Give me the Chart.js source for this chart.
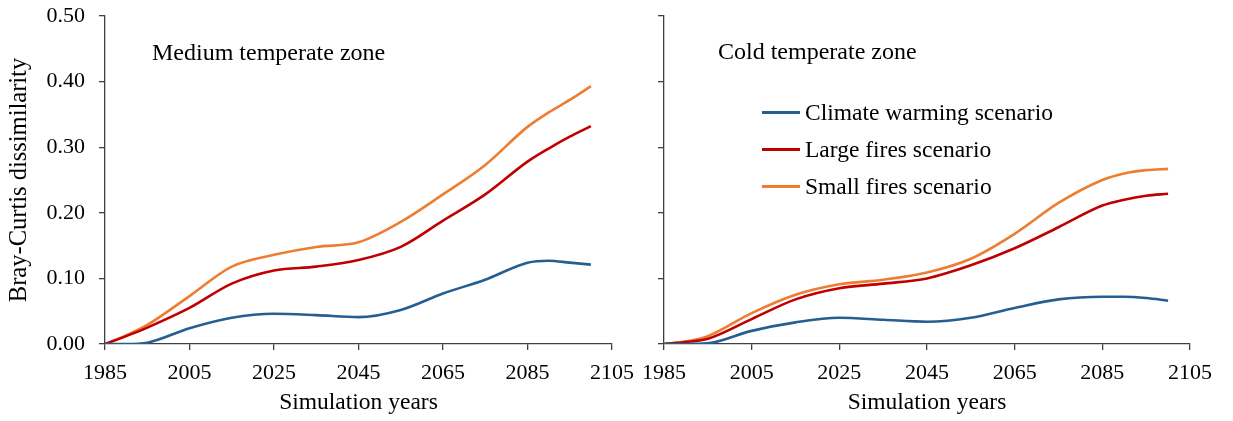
<!DOCTYPE html>
<html>
<head>
<meta charset="utf-8">
<script src="https://cdn.jsdelivr.net/npm/chart.js@4.4.0/dist/chart.umd.min.js"></script>
<style>
    body { margin: 0; background: #fff; width: 1233px; height: 421px; position: relative; overflow: hidden;
           font-family: "Liberation Serif", "Times New Roman", serif; }
    canvas { position: absolute; top: 0; }
    #legend { position: absolute; left: 762px; top: 94px; font-size: 23.5px; color: #000; }
    .row { display: flex; align-items: center; height: 37px; }
    .swatch { width: 38px; height: 3px; margin-right: 5px; }
</style>
</head>
<body>
<canvas id="leftChart" width="640" height="421" style="left:0"></canvas>
<canvas id="rightChart" width="593" height="421" style="left:640px"></canvas>
<div id="legend"></div>
<script>
// Simulation years (x values)
const years = [1985, 1990, 1995, 2005, 2015, 2025, 2035, 2045, 2055, 2065, 2075, 2085, 2090, 2095, 2100];

// Medium temperate zone
const mediumWarming = [0, 0, 0.002, 0.024, 0.040, 0.046, 0.044, 0.041, 0.052, 0.077, 0.098, 0.124, 0.127, 0.124, 0.121];
const mediumLarge   = [0, 0.012, 0.025, 0.055, 0.092, 0.112, 0.118, 0.128, 0.148, 0.188, 0.228, 0.278, 0.298, 0.316, 0.332];
const mediumSmall   = [0, 0.013, 0.029, 0.073, 0.118, 0.136, 0.148, 0.155, 0.186, 0.228, 0.273, 0.331, 0.353, 0.372, 0.393];

// Cold temperate zone
const coldWarming = [0, 0, 0.001, 0.020, 0.033, 0.040, 0.037, 0.034, 0.040, 0.055, 0.068, 0.072, 0.072, 0.070, 0.066];
const coldLarge   = [0, 0.003, 0.008, 0.038, 0.068, 0.085, 0.092, 0.100, 0.120, 0.146, 0.178, 0.211, 0.220, 0.226, 0.229];
const coldSmall   = [0, 0.004, 0.012, 0.047, 0.075, 0.091, 0.098, 0.109, 0.130, 0.168, 0.215, 0.250, 0.260, 0.265, 0.267];

const seriesNames  = ["Climate warming scenario", "Large fires scenario", "Small fires scenario"];
const seriesColors = ["#255e91", "#c00000", "#ed7d31"];

const xTicks = [1985, 2005, 2025, 2045, 2065, 2085, 2105];
const yTicks = [0, 0.1, 0.2, 0.3, 0.4, 0.5];

const FONT = "'Liberation Serif', 'Times New Roman', serif";
const AXIS = "#404040";

// draws the zone name inside the plot area
const zoneLabel = {
    id: "zoneLabel",
    afterDraw(chart, args, opts) {
        const ctx = chart.ctx;
        ctx.save();
        ctx.font = "24px " + FONT;
        ctx.fillStyle = "#000";
        ctx.textBaseline = "middle";
        ctx.fillText(opts.text, chart.chartArea.left + opts.dx, chart.chartArea.top + opts.dy);
        ctx.restore();
    }
};

function buildDatasets(values) {
    return values.map((vals, i) => ({
        label: seriesNames[i],
        data: years.map((y, j) => ({ x: y, y: vals[j] })),
        borderColor: seriesColors[i],
        borderWidth: 2.6,
        pointRadius: 0,
        cubicInterpolationMode: "monotone",
        fill: false
    }));
}

function buildChart(canvasId, values, opts) {
    const ctx = document.getElementById(canvasId).getContext("2d");
    return new Chart(ctx, {
        type: "line",
        data: { datasets: buildDatasets(values) },
        plugins: [zoneLabel],
        options: {
            responsive: false,
            animation: false,
            layout: { padding: { top: 16, right: opts.padRight, left: 0, bottom: 0 } },
            plugins: {
                legend: { display: false },
                tooltip: { enabled: false },
                zoneLabel: { text: opts.zone, dx: opts.zoneDx, dy: opts.zoneDy }
            },
            scales: {
                x: {
                    type: "linear",
                    min: 1985,
                    max: 2105,
                    afterBuildTicks: scale => { scale.ticks = xTicks.map(v => ({ value: v })); },
                    afterFit: scale => { scale.height = 77; scale.paddingLeft = 0; scale.paddingRight = 0; },
                    ticks: { color: "#000", font: { family: FONT, size: 22 }, padding: 10, maxRotation: 0,
                             callback: v => String(v) },
                    grid: { drawOnChartArea: false, tickLength: 6, color: AXIS, lineWidth: 1.3 },
                    border: { color: AXIS, width: 1.3 },
                    title: { display: true, text: "Simulation years", color: "#000",
                             font: { family: FONT, size: 23.5 }, padding: { top: 0, bottom: 4 } }
                },
                y: {
                    min: 0,
                    max: 0.5,
                    afterBuildTicks: scale => { scale.ticks = yTicks.map(v => ({ value: v })); },
                    afterFit: scale => { scale.width = opts.yWidth; scale.paddingTop = 0; scale.paddingBottom = 0; },
                    ticks: { display: opts.showY, color: "#000", font: { family: FONT, size: 22 }, padding: 14,
                             callback: v => v.toFixed(2) },
                    grid: { drawOnChartArea: false, tickLength: 6, color: AXIS, lineWidth: 1.3 },
                    border: { color: AXIS, width: 1.3 },
                    title: { display: opts.showY, text: "Bray-Curtis dissimilarity", color: "#000",
                             font: { family: FONT, size: 24.5 }, padding: 5 }
                }
            }
        }
    });
}

buildChart("leftChart", [mediumWarming, mediumLarge, mediumSmall],
    { zone: "Medium temperate zone", zoneDx: 47, zoneDy: 38, padRight: 28, yWidth: 105, showY: true });
buildChart("rightChart", [coldWarming, coldLarge, coldSmall],
    { zone: "Cold temperate zone", zoneDx: 54, zoneDy: 37, padRight: 43, yWidth: 24, showY: false });

// HTML legend inside the right panel
const legendBox = document.getElementById("legend");
seriesNames.forEach((name, i) => {
    const row = document.createElement("div");
    row.className = "row";
    row.innerHTML = `<span class="swatch" style="background:${seriesColors[i]}"></span><span>${name}</span>`;
    legendBox.appendChild(row);
});
</script>
</body>
</html>
